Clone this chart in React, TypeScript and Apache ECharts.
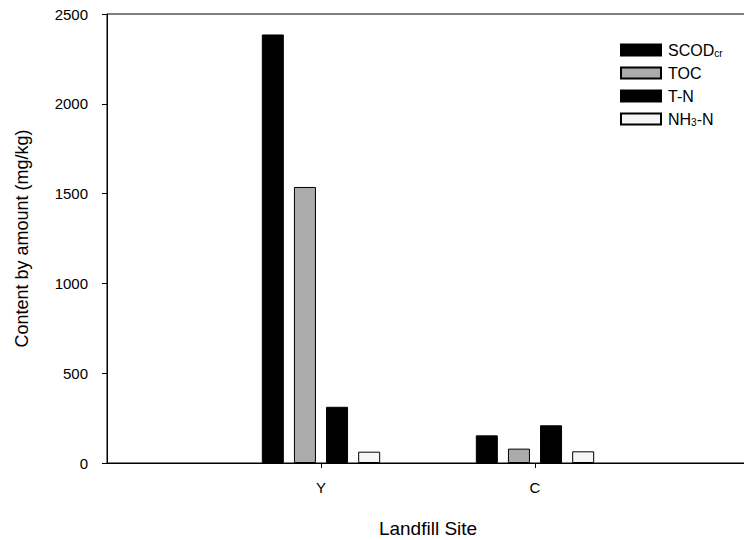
import React, { useEffect, useRef } from "react";
import * as echarts from "echarts";

const categories = ["", "Y", "C", ""];
const scodValues = [null, 2386, 154, null];
const tocValues = [null, 1537, 80, null];
const tnValues = [null, 313, 210, null];
const nh3Values = [null, 63, 65, null];
const yTicks = { min: 0, max: 2500, interval: 500 };

const FONT = "'Liberation Sans', Arial, Helvetica, sans-serif";

const legendLabels: Record<string, string> = {
  SCODcr: "{a|SCOD}{s|cr}",
  TOC: "{a|TOC}",
  "T-N": "{a|T-N}",
  "NH3-N": "{a|NH}{s|3}{a|-N}",
};

export default function App() {
  const ref = useRef<HTMLDivElement>(null);
  useEffect(() => {
    if (!ref.current) return;
    const chart = echarts.init(ref.current, null, { renderer: "svg" });
    const barBase = {
      type: "bar",
      barWidth: 22,
      barGap: "46%",
    };
    chart.setOption({
      animation: false,
      backgroundColor: "#ffffff",
      grid: {
        left: 107,
        top: 14,
        right: -5,
        bottom: 77,
        outerBoundsMode: "none",
        containLabel: false,
        show: true,
        borderColor: "#000",
        borderWidth: 1,
        backgroundColor: "transparent",
      },
      legend: {
        orient: "vertical",
        left: 615,
        top: 37,
        itemWidth: 40,
        itemHeight: 11,
        itemGap: 7,
        icon: "rect",
        formatter: (name: string) => legendLabels[name] ?? name,
        textStyle: {
          color: "#000",
          fontFamily: FONT,
          fontSize: 16,
          padding: [0, 0, 0, 2],
          rich: {
            a: { fontSize: 16, lineHeight: 16, fontFamily: FONT, color: "#000" },
            s: {
              fontSize: 10,
              lineHeight: 10,
              fontFamily: FONT,
              color: "#000",
              verticalAlign: "bottom",
              padding: [6, 0, 0, 0],
            },
          },
        },
      },
      xAxis: {
        type: "category",
        data: categories,
        boundaryGap: false,
        name: "Landfill Site",
        nameLocation: "middle",
        nameGap: 56,
        nameTextStyle: { fontFamily: FONT, fontSize: 19, color: "#000" },
        axisLine: { show: true, lineStyle: { color: "#000", width: 1 } },
        axisTick: {
          show: true,
          length: 5,
          interval: (i: number) => i === 1 || i === 2,
          lineStyle: { color: "#000" },
        },
        axisLabel: {
          interval: 0,
          margin: 17,
          fontFamily: FONT,
          fontSize: 15,
          color: "#000",
        },
        splitLine: { show: false },
      },
      yAxis: {
        type: "value",
        min: yTicks.min,
        max: yTicks.max,
        interval: yTicks.interval,
        name: "Content by amount (mg/kg)",
        nameLocation: "middle",
        nameGap: 76,
        nameTextStyle: { fontFamily: FONT, fontSize: 18, color: "#000" },
        axisLine: { show: true, lineStyle: { color: "#000", width: 1 } },
        axisTick: { show: true, length: 5, lineStyle: { color: "#000" } },
        axisLabel: {
          margin: 19,
          fontFamily: FONT,
          fontSize: 15,
          color: "#000",
          formatter: (v: number) => String(v),
        },
        splitLine: { show: false },
      },
      series: [
        {
          ...barBase,
          name: "SCODcr",
          data: scodValues,
          itemStyle: { color: "#000", borderColor: "#000", borderWidth: 1 },
        },
        {
          ...barBase,
          name: "TOC",
          data: tocValues,
          itemStyle: { color: "#ababab", borderColor: "#000", borderWidth: 1 },
        },
        {
          ...barBase,
          name: "T-N",
          data: tnValues,
          itemStyle: { color: "#000", borderColor: "#000", borderWidth: 1 },
        },
        {
          ...barBase,
          name: "NH3-N",
          data: nh3Values,
          itemStyle: { color: "#f6f6f6", borderColor: "#000", borderWidth: 1 },
        },
      ],
    });
    return () => chart.dispose();
  }, []);
  return (
    <div
      ref={ref}
      style={{ width: 744, height: 540, position: "fixed", left: 0, top: 0 }}
    />
  );
}
